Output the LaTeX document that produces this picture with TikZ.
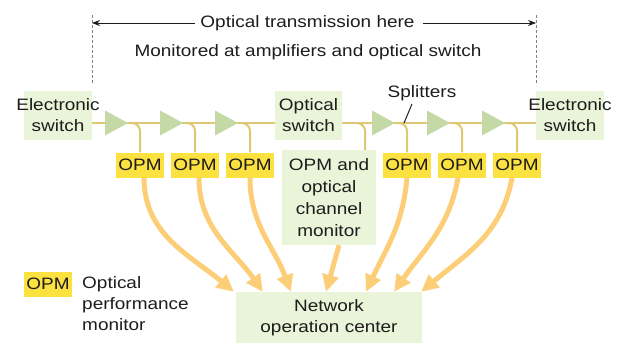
\documentclass[tikz,border=0pt]{standalone}
\usepackage{fontspec}
\setmainfont{Liberation Sans}[FakeStretch=1.15]
\usetikzlibrary{arrows.meta,calc}
\definecolor{boxgreen}{RGB}{233,244,216}
\definecolor{ampgreen}{RGB}{197,217,167}
\definecolor{fiber}{RGB}{222,200,115}
\definecolor{opmyellow}{RGB}{252,226,64}
\definecolor{arrorange}{RGB}{253,206,120}
\definecolor{txt}{RGB}{30,28,28}
\begin{document}
\begin{tikzpicture}[x=1pt,y=-1pt,
  every node/.style={font=\fontsize{16.5}{21}\selectfont, text=txt},
  gbox/.style={fill=boxgreen, inner sep=0},
  opm/.style={fill=opmyellow, minimum width=48pt, minimum height=25pt, inner sep=0},
  fiberline/.style={draw=fiber, line width=2pt},
  oarrow/.style={draw=arrorange, line width=5pt, -{Triangle[length=17pt,width=16pt]}},
  dim/.style={draw=txt, line width=0.8pt, -{Stealth[length=8pt,width=6pt]}},
  guide/.style={draw=gray, line width=0.8pt, dash pattern=on 2.5pt off 2.5pt}]
\useasboundingbox (0,0) rectangle (621,343);

% boxes
\node[gbox, minimum width=68pt, minimum height=49pt] (es1) at (58,115.5) {};
\node[align=center, inner sep=0] (es1t) at (es1.center) {Electronic\\switch};
\node[gbox, minimum width=67pt, minimum height=49pt] (os) at (308.5,115.5) {};
\node[align=center, inner sep=0] (ost) at (os.center) {Optical\\switch};
\node[gbox, minimum width=68pt, minimum height=49pt] (es2) at (570,115.5) {};
\node[align=center, inner sep=0] (es2t) at (es2.center) {Electronic\\switch};
\node[gbox, minimum width=94pt, minimum height=95pt, align=center, font=\fontsize{16.5}{22}\selectfont] (oc) at (329,197.5) {OPM and\\optical\\channel\\monitor};
\node[gbox, minimum width=186pt, minimum height=51pt, align=center] (noc) at (329,317.5) {Network\\operation center};

% top annotations
\coordinate (lg1) at (92,15); \coordinate (lg2) at (92,85);
\coordinate (rg1) at (536,15); \coordinate (rg2) at (536,85);
\draw[guide] (lg1) -- (lg2);
\draw[guide] (rg1) -- (rg2);
\node[inner sep=0] (ot) at (307.5,23) {Optical transmission here};
\draw[dim] ([xshift=-5pt]ot.west) -- (lg1 |- ot.west);
\draw[dim] ([xshift=8pt]ot.east) -- (rg1 |- ot.east);
\node[inner sep=0] (mon) at (308,52) {Monitored at amplifiers and optical switch};

% fiber
\draw[fiberline] (es1.east |- 0,123) -- (os.west |- 0,123);
\draw[fiberline] (os.east |- 0,123) -- (es2.west |- 0,123);

% OPM boxes
\foreach \n/\x in {o1/140,o2/195,o3/250,o4/407,o5/462,o6/517}{
  \node[opm] (\n) at (\x,165) {OPM};
}
% amplifiers and splitters
\foreach \n/\x in {o1/105,o2/160,o3/215,o4/372,o5/427,o6/482}{
  \coordinate (amp\n) at (\x,123);
  \draw[fiberline, rounded corners=8pt] ($(amp\n)+(24,0)$) -| (\n.north);
  \fill[ampgreen] (amp\n) ++(0,-12.5) -- ++(23,12.5) -- ++(-23,12.5) -- cycle;
}
\coordinate (ocsplit) at (357,123);
\draw[fiberline, rounded corners=8pt] (ocsplit) -| ([xshift=36pt]oc.north);

% splitters label
\node[inner sep=0] (spl) at (422,93) {Splitters};
\coordinate (splpt) at (404,123);
\draw[txt, line width=1pt] (412,104) -- (splpt);

% arrows to NOC
\draw[oarrow] ([xshift=4pt]o1.south) to[out=-90,in=140] ([xshift=-2pt]noc.north west);
\draw[oarrow] ([xshift=4pt]o2.south) to[out=-90,in=125] ([xshift=27pt]noc.north west);
\draw[oarrow] (o3.south) to[out=-90,in=110] ([xshift=55pt]noc.north west);
\draw[oarrow] ([xshift=10pt]oc.south) -- ([xshift=-3pt]noc.north);
\draw[oarrow] (o4.south) to[out=-95,in=65] ([xshift=37pt]noc.north);
\draw[oarrow] ([xshift=-4pt]o5.south) to[out=-100,in=55] ([xshift=65pt]noc.north);
\draw[oarrow] ([xshift=-5pt]o6.south) to[out=-100,in=40] ([xshift=-1pt]noc.north east);

% legend
\node[opm] (lopm) at (48,284) {OPM};
\node[align=left, anchor=north west, inner sep=0] (ltxt) at (82,276) {Optical\\performance\\monitor};
\end{tikzpicture}
\end{document}
